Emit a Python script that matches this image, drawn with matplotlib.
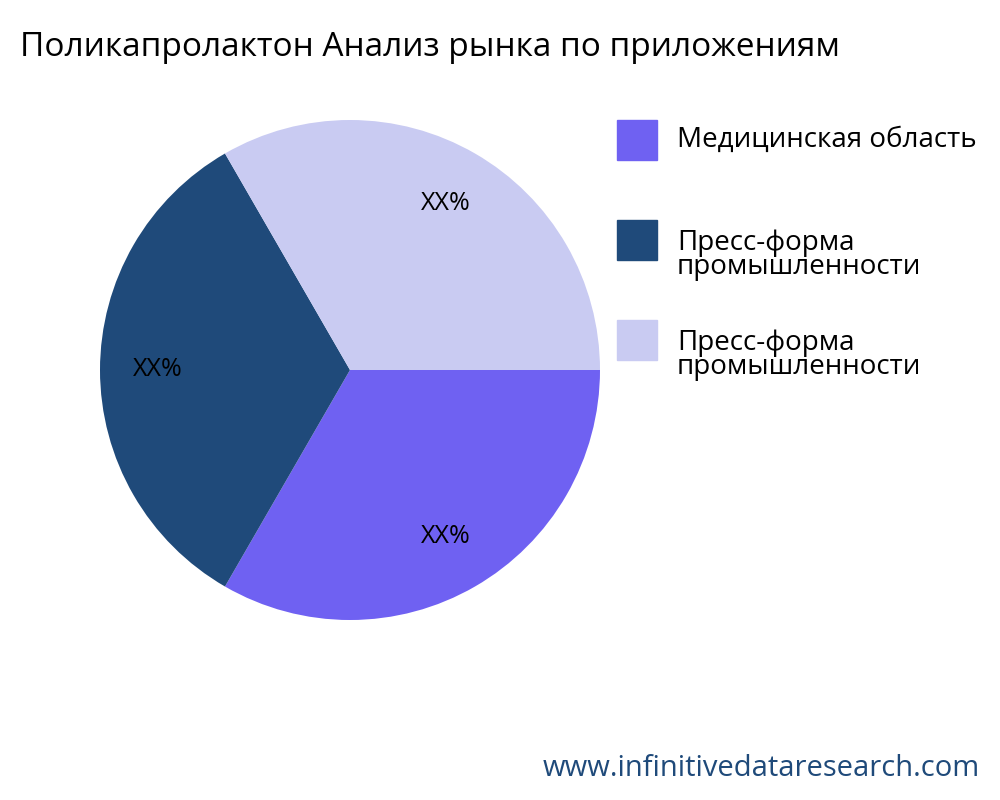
import matplotlib
matplotlib.use("Agg")
import matplotlib.pyplot as plt
from matplotlib.patches import Rectangle

plt.rcParams['font.family'] = ['Open Sans', 'DejaVu Sans']

title = "Поликапролактон Анализ рынка по приложениям"
categories = ["Медицинская область", "Пресс-форма\nпромышленности", "Пресс-форма\nпромышленности"]
values = [1, 1, 1]
labels = ["XX%", "XX%", "XX%"]
colors = ["#6f61f2", "#1f4a7a", "#c9cbf2"]

fig = plt.figure(figsize=(10, 8), dpi=100)
ax = fig.add_axes([0.1, 0.225, 0.5, 0.625])
wedges, texts, autotexts = ax.pie(values, colors=colors, startangle=0, counterclock=False,
                                  autopct=lambda p: "", pctdistance=0.77)
for t, lab in zip(autotexts, labels):
    t.set_text(lab)
    t.set_fontsize(18)
    t.set_color("black")
ax.set_xlim(-1, 1)
ax.set_ylim(-1, 1)
ax.set_aspect("equal")

fig.text(0.02, 0.94, title, fontsize=24, va="center", ha="left")

ys = [140, 240, 340]
for y, c, name in zip(ys, colors, categories):
    fig.add_artist(Rectangle((617/1000, 1 - (y + 20)/800), 0.04, 0.05,
                             transform=fig.transFigure, color=c))
    ty = y if "\n" not in name else y + 15
    fig.text(0.677, 1 - ty/800, name, fontsize=20, va="center", ha="left", linespacing=0.85)

fig.text(0.98, 0.04, "www.infinitivedataresearch.com", fontsize=21, color="#1f4a7a",
         ha="right", va="center")
fig.savefig("out.png", dpi=100)
